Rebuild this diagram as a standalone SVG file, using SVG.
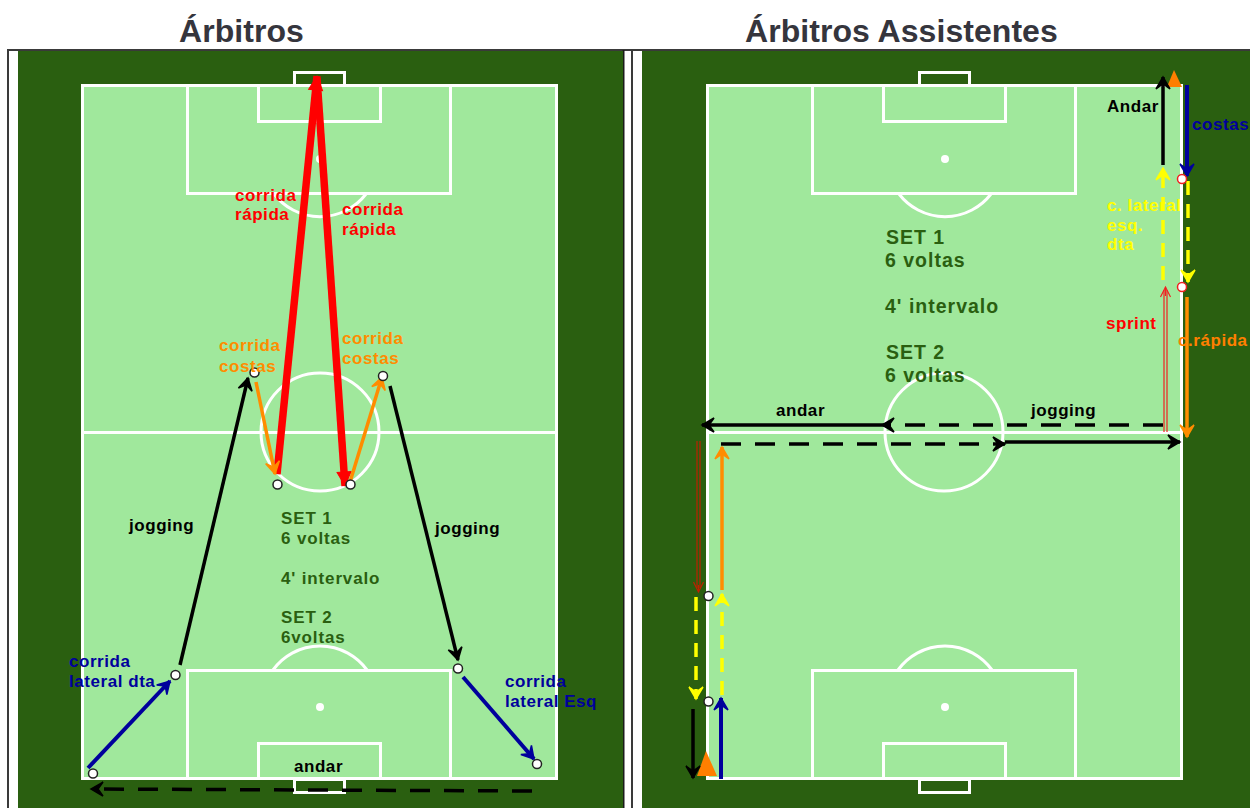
<svg xmlns="http://www.w3.org/2000/svg" width="1250" height="808" viewBox="0 0 1250 808">
<style>
.h{font:bold 32px "Liberation Sans",Arial,sans-serif;fill:#35353d;letter-spacing:.05px}
.t{font:bold 17px "Liberation Sans",Arial,sans-serif;letter-spacing:.55px;stroke-width:.25px;paint-order:stroke}
.s{font:bold 17px "Liberation Sans",Arial,sans-serif;fill:#2a5f10;letter-spacing:.85px}
.b{font:bold 19.5px "Liberation Sans",Arial,sans-serif;fill:#2a5f10;letter-spacing:1px}
.k{fill:#000}.r{fill:#f00}.o{fill:#ff8c00}.n{fill:#00009c}.y{fill:#ffff00}.co{fill:#ff7f00}
.p{fill:#a0e89c;stroke:#fff;stroke-width:3}
.l{fill:none;stroke:#fff;stroke-width:3}
.d{fill:#fff}
.g{fill:#2a5f10;stroke:#fff;stroke-width:3}
.m{fill:#fff;stroke:#222;stroke-width:1.5}
.e{fill:#fff;stroke:#f02020;stroke-width:1.5}
.a{fill:none;stroke-linecap:butt}
.ak{stroke:#000;stroke-width:3.5}
.dash{stroke-dasharray:20 14}
.dy{stroke-dasharray:14 9}
.ao{stroke:#ff8c00;stroke-width:3.5}
.an{stroke:#00009c;stroke-width:4}
.ay{stroke:#ffff00;stroke-width:3.5}
.ar{stroke:#f00;stroke-width:7.5}
.tr{stroke:#f02020;stroke-width:1.2}
.dr{stroke:#c02000;stroke-width:1.2}
</style>
<defs>
<marker id="hk" markerUnits="userSpaceOnUse" viewBox="-16 -10 18 20" markerWidth="18" markerHeight="20" refX="0" refY="0" orient="auto"><path d="M-12-7L0 0-12 7-7 0Z" fill="#000" stroke="#000" stroke-width="1.500"/></marker>
<marker id="ho" markerUnits="userSpaceOnUse" viewBox="-16 -10 18 20" markerWidth="18" markerHeight="20" refX="0" refY="0" orient="auto"><path d="M-12-7L0 0-12 7-7 0Z" fill="#ff8c00" stroke="#ff8c00" stroke-width="1.500"/></marker>
<marker id="hn" markerUnits="userSpaceOnUse" viewBox="-16 -10 18 20" markerWidth="18" markerHeight="20" refX="0" refY="0" orient="auto"><path d="M-12-7L0 0-12 7-7 0Z" fill="#00009c" stroke="#00009c" stroke-width="1.500"/></marker>
<marker id="hy" markerUnits="userSpaceOnUse" viewBox="-16 -10 18 20" markerWidth="18" markerHeight="20" refX="0" refY="0" orient="auto"><path d="M-12-7L0 0-12 7-7 0Z" fill="#ffff00" stroke="#ffff00" stroke-width="1.500"/></marker>
<marker id="hr" markerUnits="userSpaceOnUse" viewBox="-18 -10 20 20" markerWidth="20" markerHeight="20" refX="0" refY="0" orient="auto"><path d="M-14-7L0 0-14 7Z" fill="#f00" stroke="#f00" stroke-width="1"/></marker>
<marker id="ht" markerUnits="userSpaceOnUse" viewBox="-14 -10 16 20" markerWidth="16" markerHeight="20" refX="0" refY="0" orient="auto"><path d="M-10-5L0 0-10 5" fill="none" stroke="#f02020" stroke-width="1.200"/></marker>
<marker id="hd" markerUnits="userSpaceOnUse" viewBox="-14 -10 16 20" markerWidth="16" markerHeight="20" refX="0" refY="0" orient="auto"><path d="M-10-5L0 0-10 5" fill="none" stroke="#c02000" stroke-width="1.200"/></marker>
</defs>
<rect width="1250" height="808" fill="#fff"/>
<g id="frame">
<path d="M8 808V50H1250M632 50V808" fill="none" stroke="#3a3a3a" stroke-width="2"/>
<path d="M623.500 50V808" fill="none" stroke="#1a1a1a" stroke-width="2"/>
</g>
<g id="titles">
<text class="h" x="179" y="42">Árbitros</text>
<text class="h" x="745" y="42">Árbitros Assistentes</text>
</g>
<g id="field-left">
<rect x="18" y="51" width="605" height="757" fill="#2a5f10"/>
<rect class="g" x="294.500" y="72.500" width="50" height="13"/>
<rect class="g" x="294.500" y="779.500" width="50" height="13"/>
<rect class="p" x="82.500" y="85.500" width="474" height="693"/>
<path class="l" d="M82.500 432.500H556.500"/>
<rect class="l" x="187.500" y="85.500" width="263" height="108"/>
<rect class="l" x="258.500" y="85.500" width="122" height="36"/>
<path class="l" d="M274 194A58 58 0 0 0 366 194"/>
<circle class="d" cx="320" cy="159" r="4"/>
<circle class="l" cx="320" cy="432" r="59"/>
<rect class="l" x="187.500" y="670.500" width="263" height="108"/>
<rect class="l" x="258.500" y="743.500" width="122" height="35"/>
<path class="l" d="M273 670A58 58 0 0 1 367 670"/>
<circle class="d" cx="320" cy="707" r="4"/>
</g>
<g id="field-right">
<rect x="642" y="51" width="608" height="757" fill="#2a5f10"/>
<rect class="g" x="919.500" y="72.500" width="50" height="13"/>
<rect class="g" x="919.500" y="779.500" width="50" height="13"/>
<rect class="p" x="707.500" y="85.500" width="474" height="693"/>
<path class="l" d="M707.500 432.500H1181.500"/>
<rect class="l" x="812.500" y="85.500" width="263" height="108"/>
<rect class="l" x="883.500" y="85.500" width="122" height="36"/>
<path class="l" d="M899 194A58 58 0 0 0 991 194"/>
<circle class="d" cx="945" cy="159" r="4"/>
<circle class="l" cx="944" cy="432" r="59"/>
<rect class="l" x="812.500" y="670.500" width="263" height="108"/>
<rect class="l" x="883.500" y="743.500" width="122" height="35"/>
<path class="l" d="M898 670A58 58 0 0 1 992 670"/>
<circle class="d" cx="945" cy="707" r="4"/>
</g>
<g id="cones">
<polygon class="co" points="1174,70 1167,87 1182,87"/>
<polygon class="co" points="706,751 697,776 717,776"/>
</g>
<g id="connectors">
<path class="a ar" d="M277 474L317 76" marker-end="url(#hr)"/>
<path class="a ar" d="M317 78L345 486" marker-end="url(#hr)"/>
<path class="a ao" d="M256 382L275 474" marker-end="url(#ho)"/>
<path class="a ao" d="M350 482L382 377" marker-end="url(#ho)"/>
<path class="a ak" d="M180 665L248 378" marker-end="url(#hk)"/>
<path class="a ak" d="M390 386L458 660" marker-end="url(#hk)"/>
<path class="a an" d="M88 768L170 681" marker-end="url(#hn)"/>
<path class="a an" d="M463 677L534 759" marker-end="url(#hn)"/>
<path class="a ak dash" d="M532 791L91 789" marker-end="url(#hk)"/>
<path class="a ak" d="M1163 165V77" marker-end="url(#hk)"/>
<path class="a an" d="M1187 85V176" marker-end="url(#hn)"/>
<path class="a ay dy" d="M1163 280V168" marker-end="url(#hy)"/>
<path class="a ay dy" d="M1188 181V282" marker-end="url(#hy)"/>
<path class="a tr" d="M1164 432V290"/>
<path class="a tr" d="M1167 432V290"/>
<path class="a tr" d="M1165.500 296V287" marker-end="url(#ht)"/>
<path class="a ao" d="M1187 297V437" marker-end="url(#ho)"/>
<path class="a ak dash" d="M1163 425H882" marker-end="url(#hk)"/>
<path class="a ak" d="M882 425H702" marker-end="url(#hk)"/>
<path class="a ak dash" d="M721 444H1005" marker-end="url(#hk)"/>
<path class="a ak" d="M1005 442H1180" marker-end="url(#hk)"/>
<path class="a dr" d="M697 441V588"/>
<path class="a dr" d="M700 441V588"/>
<path class="a dr" d="M698.500 585V592" marker-end="url(#hd)"/>
<path class="a ao" d="M722 590V447" marker-end="url(#ho)"/>
<path class="a ay dy" d="M696 597V699" marker-end="url(#hy)"/>
<path class="a ay dy" d="M722 695V594" marker-end="url(#hy)"/>
<path class="a an" d="M721 779V698" marker-end="url(#hn)"/>
<path class="a ak" d="M693 709V778" marker-end="url(#hk)"/>
</g>
<g id="points">
<circle class="m" cx="254.500" cy="372.500" r="4.500"/>
<circle class="m" cx="277.500" cy="484.500" r="4.500"/>
<circle class="m" cx="350.500" cy="484.500" r="4.500"/>
<circle class="m" cx="383" cy="376" r="4.500"/>
<circle class="m" cx="93" cy="773.500" r="4.500"/>
<circle class="m" cx="175.500" cy="675" r="4.500"/>
<circle class="m" cx="458" cy="668.500" r="4.500"/>
<circle class="m" cx="537" cy="764" r="4.500"/>
<circle class="e" cx="1182" cy="179" r="4.500"/>
<circle class="e" cx="1182" cy="287" r="4.500"/>
<circle class="m" cx="708.500" cy="596" r="4.500"/>
<circle class="m" cx="708.500" cy="701.500" r="4.500"/>
</g>
<g id="labels">
<text class="t r" x="235" y="201">corrida</text>
<text class="t r" x="235" y="220">rápida</text>
<text class="t r" x="342" y="215">corrida</text>
<text class="t r" x="342" y="235">rápida</text>
<text class="t o" x="219" y="351">corrida</text>
<text class="t o" x="219" y="372">costas</text>
<text class="t o" x="342" y="344">corrida</text>
<text class="t o" x="342" y="364">costas</text>
<text class="t k" x="129" y="531">jogging</text>
<text class="t k" x="435" y="534">jogging</text>
<text class="t n" x="69" y="667">corrida</text>
<text class="t n" x="69" y="687">lateral dta</text>
<text class="t n" x="505" y="687">corrida</text>
<text class="t n" x="505" y="707">lateral Esq</text>
<text class="t k" x="294" y="772">andar</text>
<text class="s" x="281" y="524">SET 1</text>
<text class="s" x="281" y="544">6 voltas</text>
<text class="s" x="281" y="584">4' intervalo</text>
<text class="s" x="281" y="623">SET 2</text>
<text class="s" x="281" y="643">6voltas</text>
<text class="t k" x="1107" y="112">Andar</text>
<text class="t n" x="1192" y="130">costas</text>
<text class="t y" x="1107" y="211">c. lateral</text>
<text class="t y" x="1107" y="231">esq.</text>
<text class="t y" x="1107" y="250">dta</text>
<text class="t r" x="1106" y="329">sprint</text>
<text class="t co" x="1178" y="346">c.rápida</text>
<text class="t k" x="776" y="416">andar</text>
<text class="t k" x="1031" y="416">jogging</text>
<text class="b" x="886" y="244">SET 1</text>
<text class="b" x="885" y="267">6 voltas</text>
<text class="b" x="885" y="313">4' intervalo</text>
<text class="b" x="886" y="359">SET 2</text>
<text class="b" x="885" y="382">6 voltas</text>
</g>
</svg>
